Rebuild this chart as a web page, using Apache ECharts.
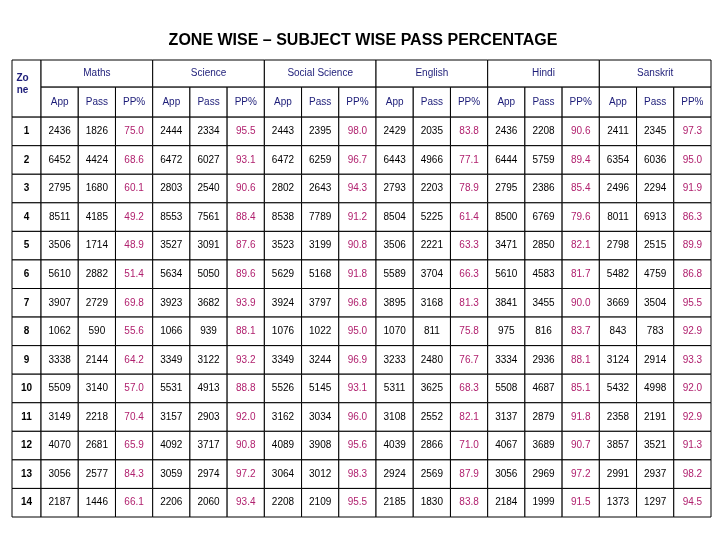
<!DOCTYPE html>
<html><head><meta charset="utf-8">
<script src="https://cdn.jsdelivr.net/npm/echarts@6/dist/echarts.min.js"></script>
<style>html,body{margin:0;background:#fff}#c{width:726px;height:540px}</style>
</head><body><div id="c"></div>
<script>
const title = 'ZONE WISE – SUBJECT WISE PASS PERCENTAGE';
const subjects = ['Maths','Science','Social Science','English','Hindi','Sanskrit'];
const subHeads = ['App','Pass','PP%'];
const zones = ['1','2','3','4','5','6','7','8','9','10','11','12','13','14'];
const maths    = [[2436,1826,'75.0'],[6452,4424,'68.6'],[2795,1680,'60.1'],[8511,4185,'49.2'],[3506,1714,'48.9'],[5610,2882,'51.4'],[3907,2729,'69.8'],[1062,590,'55.6'],[3338,2144,'64.2'],[5509,3140,'57.0'],[3149,2218,'70.4'],[4070,2681,'65.9'],[3056,2577,'84.3'],[2187,1446,'66.1']];
const science  = [[2444,2334,'95.5'],[6472,6027,'93.1'],[2803,2540,'90.6'],[8553,7561,'88.4'],[3527,3091,'87.6'],[5634,5050,'89.6'],[3923,3682,'93.9'],[1066,939,'88.1'],[3349,3122,'93.2'],[5531,4913,'88.8'],[3157,2903,'92.0'],[4092,3717,'90.8'],[3059,2974,'97.2'],[2206,2060,'93.4']];
const social   = [[2443,2395,'98.0'],[6472,6259,'96.7'],[2802,2643,'94.3'],[8538,7789,'91.2'],[3523,3199,'90.8'],[5629,5168,'91.8'],[3924,3797,'96.8'],[1076,1022,'95.0'],[3349,3244,'96.9'],[5526,5145,'93.1'],[3162,3034,'96.0'],[4089,3908,'95.6'],[3064,3012,'98.3'],[2208,2109,'95.5']];
const english  = [[2429,2035,'83.8'],[6443,4966,'77.1'],[2793,2203,'78.9'],[8504,5225,'61.4'],[3506,2221,'63.3'],[5589,3704,'66.3'],[3895,3168,'81.3'],[1070,811,'75.8'],[3233,2480,'76.7'],[5311,3625,'68.3'],[3108,2552,'82.1'],[4039,2866,'71.0'],[2924,2569,'87.9'],[2185,1830,'83.8']];
const hindi    = [[2436,2208,'90.6'],[6444,5759,'89.4'],[2795,2386,'85.4'],[8500,6769,'79.6'],[3471,2850,'82.1'],[5610,4583,'81.7'],[3841,3455,'90.0'],[975,816,'83.7'],[3334,2936,'88.1'],[5508,4687,'85.1'],[3137,2879,'91.8'],[4067,3689,'90.7'],[3056,2969,'97.2'],[2184,1999,'91.5']];
const sanskrit = [[2411,2345,'97.3'],[6354,6036,'95.0'],[2496,2294,'91.9'],[8011,6913,'86.3'],[2798,2515,'89.9'],[5482,4759,'86.8'],[3669,3504,'95.5'],[843,783,'92.9'],[3124,2914,'93.3'],[5432,4998,'92.0'],[2358,2191,'92.9'],[3857,3521,'91.3'],[2991,2937,'98.2'],[1373,1297,'94.5']];

const subjData = [maths,science,social,english,hindi,sanskrit];
const ZW = 0.78; // zone column width in sub-column units
const NAVY = '#1c1c78', MAG = '#b0206e';
// cells: [x0,x1,y0,y1,text,color,bold,alignTop]
const cells = [];
cells.push([0,ZW,0,2,'Zo\nne',NAVY,true,true]);
subjects.forEach((s,i)=>{
  const x = ZW + i*3;
  cells.push([x,x+3,0,0.95,s,NAVY,false,false]);
  subHeads.forEach((h,j)=>cells.push([x+j,x+j+1,0.95,2,h,NAVY,false,false]));
});
zones.forEach((z,r)=>{
  const y = 2 + r;
  cells.push([0,ZW,y,y+1,z,'#000',true,false]);
  subjData.forEach((arr,i)=>{
    const x = ZW + i*3;
    arr[r].forEach((v,j)=>cells.push([x+j,x+j+1,y,y+1,String(v),j===2?MAG:'#000',false,false]));
  });
});

const chart = echarts.init(document.getElementById('c'));
chart.setOption({
  animation:false,
  title:{text:title,left:'center',top:28,textStyle:{fontFamily:'Liberation Sans',fontSize:16,fontWeight:'bold',color:'#000'}},
  grid:{left:12,right:15,top:60,bottom:23},
  xAxis:{type:'value',min:0,max:ZW+18,show:false},
  yAxis:{type:'value',min:0,max:16,inverse:true,show:false},
  series:[{
    type:'custom',
    data:cells,
    renderItem:(params,api)=>{
      const p0 = api.coord([api.value(0),api.value(2)]);
      const p1 = api.coord([api.value(1),api.value(3)]);
      const d = cells[params.dataIndex];
      const w = p1[0]-p0[0], h = p1[1]-p0[1];
      return {type:'group',children:[
        {type:'rect',shape:{x:p0[0],y:p0[1],width:w,height:h},style:{fill:'#fff',stroke:'#000',lineWidth:1}},
        {type:'text',x:p0[0]+w/2-(d[7]?4:0),y:d[7]?p0[1]+12:p0[1]+h/2,
         style:{text:d[4],fill:d[5],font:(d[6]?'bold ':'')+'10px "Liberation Sans"',
                align:'center',verticalAlign:d[7]?'top':'middle',lineHeight:12}}
      ]};
    }
  }]
});
</script></body></html>
